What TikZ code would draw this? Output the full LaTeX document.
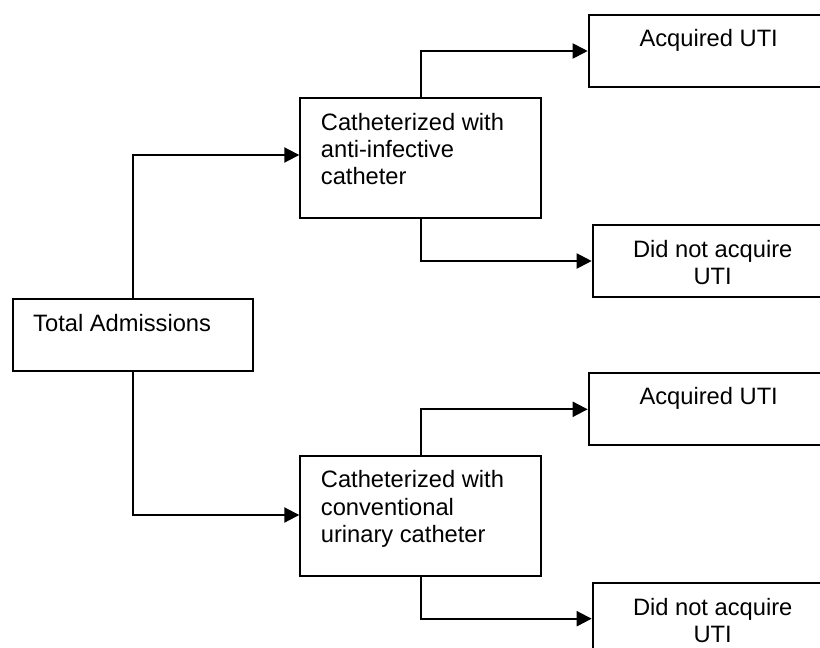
\documentclass[tikz,border=0pt]{standalone}
\usepackage{fontspec}
\setmainfont{Liberation Sans}
\usetikzlibrary{arrows.meta}

\begin{document}
\begin{tikzpicture}[x=1pt,y=-1pt,
  boxst/.style={draw, line width=2pt, rectangle, inner sep=0pt, anchor=north west},
  txt/.style={font=\fontsize{23.7}{27.3}\selectfont, inner sep=0pt},
  conn/.style={line width=2pt, -{Triangle[length=15pt,width=15pt]}}]
  % page frame and clipping of the boxes that run past the right edge
  \fill[white] (0,0) rectangle (820,648);
  \useasboundingbox (0,0) rectangle (820,648);
  \clip (0,0) rectangle (820,648);

  % boxes
  \node[boxst, minimum width=240pt, minimum height=71.7pt] (tot) at (11.7,298.3) {};
  \node[boxst, minimum width=240.7pt, minimum height=120pt] (m1) at (299.3,97.3) {};
  \node[boxst, minimum width=240.7pt, minimum height=120pt] (m2) at (299.3,455) {};
  \node[boxst, minimum width=240pt, minimum height=72pt] (a1) at (587.7,14) {};
  \node[boxst, minimum width=240pt, minimum height=72pt] (n1) at (591.7,224) {};
  \node[boxst, minimum width=240pt, minimum height=72pt] (a2) at (587.7,372.3) {};
  \node[boxst, minimum width=240pt, minimum height=72pt] (n2) at (591.7,581.7) {};

  % box texts (base anchor of a multi-line node is its last line)
  \node[txt, anchor=base west] (ttot) at ([xshift=21.3pt, yshift=-33.4pt]tot.north west) {Total Admissions};
  \node[txt, anchor=base west, align=left] (tm1) at ([xshift=21.4pt, yshift=-87.3pt]m1.north west)
    {Catheterized with\\anti-infective\\catheter};
  \node[txt, anchor=base west, align=left] (tm2) at ([xshift=21.4pt, yshift=-87.3pt]m2.north west)
    {Catheterized with\\conventional\\urinary catheter};
  \node[txt, anchor=base] (ta1) at ([yshift=-32pt]a1.north) {Acquired UTI};
  \node[txt, anchor=base, align=center] (tn1) at ([yshift=-60.6pt]n1.north) {Did not acquire\\UTI};
  \node[txt, anchor=base] (ta2) at ([yshift=-31.7pt]a2.north) {Acquired UTI};
  \node[txt, anchor=base, align=center] (tn2) at ([yshift=-60.6pt]n2.north) {Did not acquire\\UTI};

  % connectors
  \draw[conn] (tot.north) |- ([yshift=3.3pt]m1.west);
  \draw[conn] (tot.south) |- ([yshift=1pt]m2.west);
  \draw[conn] (m1.north) |- (a1.west);
  \draw[conn] (m1.south) |- (n1.west);
  \draw[conn] (m2.north) |- (a2.west);
  \draw[conn] (m2.south) |- (n2.west);
\end{tikzpicture}
\end{document}
